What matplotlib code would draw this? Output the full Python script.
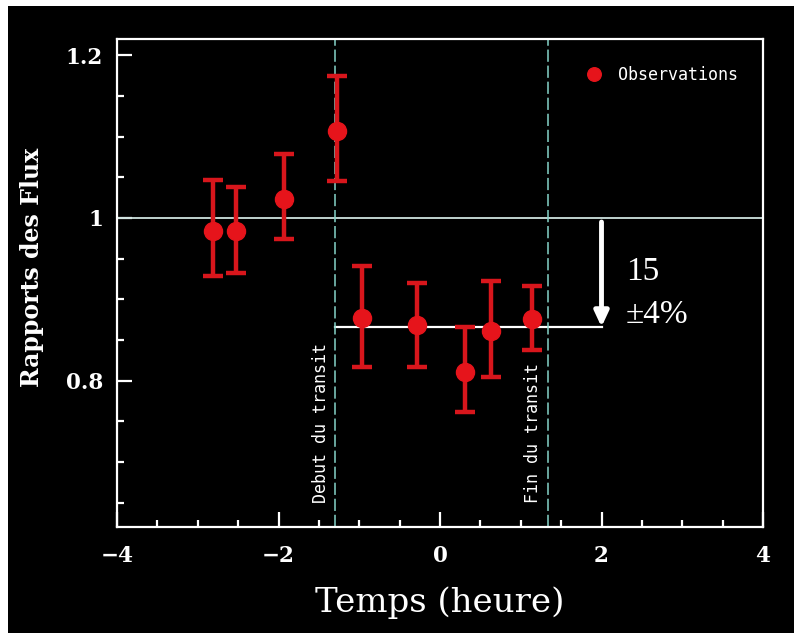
import matplotlib
matplotlib.use("Agg")
import matplotlib.pyplot as plt
from matplotlib.patches import Rectangle

# Observed flux ratios during the transit
temps = [-2.81, -2.53, -1.93, -1.28, -0.97, -0.29, 0.31, 0.63, 1.14]
flux = [0.984, 0.984, 1.023, 1.107, 0.877, 0.868, 0.810, 0.861, 0.876]
flux_haut = [1.047, 1.038, 1.079, 1.175, 0.941, 0.920, 0.866, 0.922, 0.916]
flux_bas = [0.929, 0.932, 0.974, 1.046, 0.817, 0.817, 0.761, 0.804, 0.838]

debut_transit = -1.30
fin_transit = 1.34
niveau_hors_transit = 1.0
niveau_transit = 0.866
x_fleche = 2.0

xticks = [-4, -2, 0, 2, 4]
xtick_labels = ["\u22124", "\u22122", "0", "2", "4"]
yticks = [0.8, 1.0, 1.2]
ytick_labels = ["0.8", "1", "1.2"]

W, H = 794, 633
fig = plt.figure(figsize=(W / 100, H / 100), dpi=100, facecolor="white")
fig.patches.append(Rectangle((8 / W, 0), 1 - 8 / W, 1 - 6 / H,
                             transform=fig.transFigure, facecolor="black",
                             edgecolor="none", zorder=-10))

ax = fig.add_axes([117 / W, 1 - 527 / H, (763 - 117) / W, (527 - 39) / H])
ax.set_facecolor("black")
ax.set_xlim(-4, 4)
ax.set_ylim(0.62, 1.22)

for side in ["left", "bottom", "top", "right"]:
    ax.spines[side].set_color("white")
    ax.spines[side].set_linewidth(1.6)

ax.set_xticks(xticks)
ax.set_xticklabels(xtick_labels)
ax.set_yticks(yticks)
ax.set_yticklabels(ytick_labels)
ax.set_xticks([v / 2 for v in range(-8, 9)], minor=True)
ax.set_yticks([0.65, 0.7, 0.75, 0.85, 0.9, 0.95, 1.05, 1.1, 1.15], minor=True)
ax.tick_params(which="both", direction="in", colors="white", width=1.6,
               top=False, right=False)
ax.tick_params(which="major", length=11)
ax.tick_params(which="minor", length=5)
ax.tick_params(axis="x", which="major", pad=13)
ax.tick_params(axis="y", which="major", pad=10)
for lab in ax.get_xticklabels() + ax.get_yticklabels():
    lab.set_fontfamily("DejaVu Serif")
    lab.set_fontsize(15.5)
    lab.set_fontweight("bold")
    lab.set_color("white")

ax.set_xlabel("Temps (heure)", fontfamily="DejaVu Serif", fontsize=24.5,
              color="white", labelpad=14)
ax.set_ylabel("Rapports des Flux", fontfamily="DejaVu Serif", fontsize=17,
              fontweight="bold", color="white")
ax.yaxis.set_label_coords(-0.113, 0.531)

# reference levels
ax.axhline(niveau_hors_transit, color="#cfe3df", lw=1.3, zorder=2)
ax.plot([debut_transit, x_fleche], [niveau_transit, niveau_transit],
        color="white", lw=1.6, zorder=2)
for xv in (debut_transit, fin_transit):
    ax.axvline(xv, color="#86d4ca", lw=1.1, dashes=(8, 2.5), zorder=2)

ax.text(debut_transit - 0.06, 0.6495, "Debut du transit", rotation=90,
        ha="right", va="bottom", color="white", fontsize=12,
        fontfamily="DejaVu Sans Mono")
ax.text(fin_transit - 0.08, 0.6495, "Fin du transit", rotation=90,
        ha="right", va="bottom", color="white", fontsize=12,
        fontfamily="DejaVu Sans Mono")

# depth arrow
ax.annotate("", xy=(x_fleche, niveau_transit), xytext=(x_fleche, 0.995),
            arrowprops=dict(arrowstyle="-|>,head_length=0.9,head_width=0.42",
                            color="white", lw=3.5, shrinkA=0, shrinkB=0),
            zorder=4)
ax.text(2.3, 0.9237, "15", color="white", fontsize=24,
        fontfamily="Liberation Serif", ha="left", va="baseline")
ax.text(2.3, 0.8708, "\u00b14%", color="white", fontsize=24,
        fontfamily="Liberation Serif", ha="left", va="baseline")

red = "#e6141b"
ax.errorbar(temps, flux,
            yerr=[[f - b for f, b in zip(flux, flux_bas)],
                  [h - f for f, h in zip(flux, flux_haut)]],
            fmt="o", color=red, ecolor="#d8161c", markersize=13,
            elinewidth=3.2, capsize=7, capthick=3.2, zorder=5,
            label="Observations")

handles, labels = ax.get_legend_handles_labels()
leg = ax.legend([handles[0][0]], labels, loc="center left",
                bbox_to_anchor=(0.70, 0.926), frameon=False,
                handletextpad=0.85, handlelength=1.2, markerscale=0.75,
                prop={"family": "DejaVu Sans Mono", "size": 12})
for t in leg.get_texts():
    t.set_color("white")

fig.savefig("out.png", dpi=100, facecolor=fig.get_facecolor())
